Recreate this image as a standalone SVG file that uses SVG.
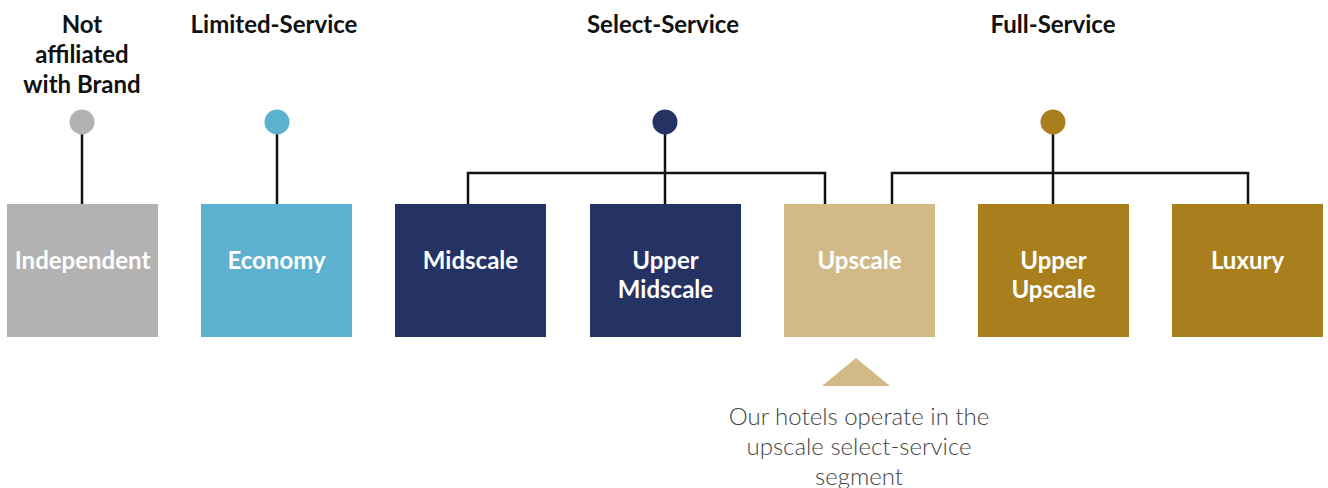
<svg xmlns="http://www.w3.org/2000/svg" width="1328" height="488" viewBox="0 0 1328 488">
  <style>
    .head { font-family: Lato, "Liberation Sans", sans-serif; font-weight: 700; font-size: 24px; fill: #111; text-anchor: middle; }
    .lbl { font-family: Lato, "Liberation Sans", sans-serif; font-weight: 700; font-size: 24px; fill: #fff; text-anchor: middle; }
    .note { font-family: Lato, "Liberation Sans", sans-serif; font-weight: 300; font-size: 24px; fill: #444; text-anchor: middle; }
    .wire { fill: none; stroke: #111; stroke-width: 2.5; }
  </style>

  <!-- category headings -->
  <g id="headings">
    <text class="head" x="82" y="33">Not</text>
    <text class="head" x="82" y="63">affiliated</text>
    <text class="head" x="82" y="93">with Brand</text>
    <text class="head" x="274" y="33">Limited-Service</text>
    <text class="head" x="663" y="33">Select-Service</text>
    <text class="head" x="1053" y="33">Full-Service</text>
  </g>

  <!-- connectors -->
  <g id="connectors">
    <path class="wire" d="M82 122 V204"/>
    <path class="wire" d="M277 122 V204"/>
    <path class="wire" d="M665 122 V204 M468 204 V173 H825 V204"/>
    <path class="wire" d="M1053 122 V204 M892 204 V173 H1248 V204"/>
  </g>

  <!-- category dots -->
  <g id="dots">
    <circle id="dot-independent" cx="82" cy="122" r="12.5" fill="#b2b2b2"/>
    <circle id="dot-limited" cx="277" cy="122" r="12.5" fill="#5cb1d1"/>
    <circle id="dot-select" cx="665" cy="122" r="12.5" fill="#243364"/>
    <circle id="dot-full" cx="1053" cy="122" r="12.5" fill="#a97f1e"/>
  </g>

  <!-- segment boxes -->
  <g id="independent">
    <rect x="7" y="204" width="151" height="133" fill="#b2b2b2"/>
    <text class="lbl" x="82.5" y="269">Independent</text>
  </g>
  <g id="economy">
    <rect x="201" y="204" width="151" height="133" fill="#5cb1d1"/>
    <text class="lbl" x="276.5" y="269">Economy</text>
  </g>
  <g id="midscale">
    <rect x="395" y="204" width="151" height="133" fill="#243364"/>
    <text class="lbl" x="470.5" y="269">Midscale</text>
  </g>
  <g id="upper-midscale">
    <rect x="590" y="204" width="151" height="133" fill="#243364"/>
    <text class="lbl" x="665.5" y="269">Upper</text>
    <text class="lbl" x="665.5" y="298">Midscale</text>
  </g>
  <g id="upscale">
    <rect x="784" y="204" width="151" height="133" fill="#d2ba88"/>
    <text class="lbl" x="859.5" y="269">Upscale</text>
  </g>
  <g id="upper-upscale">
    <rect x="978" y="204" width="151" height="133" fill="#a97f1e"/>
    <text class="lbl" x="1053.5" y="269">Upper</text>
    <text class="lbl" x="1053.5" y="298">Upscale</text>
  </g>
  <g id="luxury">
    <rect x="1172" y="204" width="151" height="133" fill="#a97f1e"/>
    <text class="lbl" x="1247.5" y="269">Luxury</text>
  </g>

  <!-- pointer and note -->
  <g id="note">
    <polygon points="822,386 856,358 890,386" fill="#d2ba88"/>
    <text class="note" x="859" y="425">Our hotels operate in the</text>
    <text class="note" x="859" y="455">upscale select-service</text>
    <text class="note" x="859" y="485">segment</text>
  </g>
</svg>
